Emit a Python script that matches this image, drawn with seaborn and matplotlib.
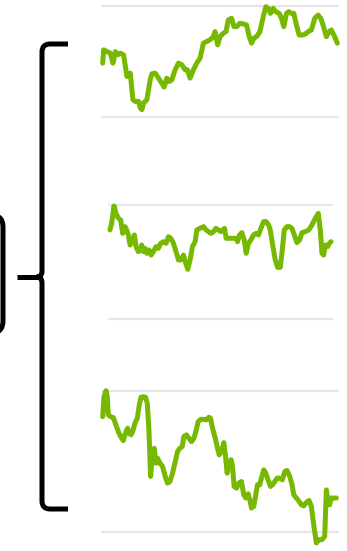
import numpy as np
import pandas as pd
import matplotlib
matplotlib.use("Agg")
import matplotlib.pyplot as plt
from matplotlib.path import Path
from matplotlib.patches import PathPatch
import seaborn as sns

# Three small trend series (x = sample position, y = level on a 0-100 scale)
top_x = [37, 40, 50, 60, 68, 75, 82, 90, 100, 110, 120, 128, 135, 145, 150, 155, 160, 170,
         180, 185, 195, 205, 215, 222, 230, 237, 245, 255, 265, 275, 285, 292, 300, 310,
         320, 330, 340, 350, 360, 370, 375, 383, 390, 400, 408, 415, 425, 432, 440, 450,
         460, 470, 478, 485, 492, 500, 510, 520, 528, 535, 542, 550, 558, 568, 575, 582,
         590, 597, 605, 612, 620, 628, 640, 650, 655, 665, 675, 685, 693, 700, 710, 718,
         725, 735, 743]
top_y = [48.4, 60.3, 58.8, 57.3, 48.4, 58.8, 55.8, 57.3, 55.8, 36.4, 39.4, 15.5, 14.0, 14.0,
         8.1, 6.6, 12.5, 15.5, 33.4, 38.8, 39.4, 34.9, 30.4, 26.9, 34.9, 31.9, 33.4, 42.4,
         48.4, 46.9, 42.4, 42.4, 34.9, 42.4, 48.4, 52.8, 66.3, 67.8, 69.3, 72.2, 76.7, 64.8,
         72.2, 75.2, 76.7, 87.2, 88.7, 81.2, 81.2, 84.2, 83.6, 82.7, 72.2, 66.3, 70.8, 72.2,
         76.7, 90.1, 99.1, 97.6, 93.1, 97.6, 94.6, 93.1, 88.7, 81.2, 93.1, 94.6, 93.1, 93.1,
         82.7, 73.7, 73.7, 75.2, 76.7, 78.2, 88.7, 91.6, 88.7, 82.7, 72.2, 76.7, 78.2, 72.2,
         66.3]

mid_x = [60, 65, 72, 78, 85, 92, 98, 105, 110, 115, 120, 128, 133, 138, 145, 150, 155, 160,
         165, 170, 177, 183, 190, 198, 205, 212, 220, 228, 235, 242, 250, 258, 265, 272,
         280, 287, 293, 300, 307, 315, 320, 330, 340, 348, 355, 362, 370, 377, 385, 392,
         398, 403, 408, 418, 430, 438, 442, 448, 455, 462, 468, 475, 482, 490, 498, 505,
         512, 520, 528, 535, 540, 548, 555, 562, 570, 575, 582, 590, 598, 605, 612, 620,
         628, 635, 645, 655, 662, 670, 678, 684, 690, 695, 700, 705, 712, 717, 722]
mid_y = [78.1, 83.9, 99.1, 92.7, 88.3, 86.8, 75.1, 81.0, 78.1, 73.7, 64.9, 69.3, 73.7, 63.5,
         59.1, 60.5, 64.9, 59.1, 62.0, 57.6, 60.5, 56.1, 59.1, 63.5, 62.0, 66.4, 67.8, 66.4,
         72.2, 70.8, 66.4, 59.1, 51.8, 51.8, 56.1, 48.8, 43.6, 51.8, 63.5, 67.8, 78.1, 79.5,
         81.0, 78.1, 76.6, 75.1, 76.6, 79.5, 78.1, 76.6, 78.1, 79.5, 70.8, 70.8, 70.8, 70.8,
         67.8, 73.7, 75.7, 69.3, 57.6, 66.4, 69.3, 73.7, 75.1, 73.7, 79.5, 85.4, 85.4, 82.5,
         78.1, 63.5, 51.8, 45.3, 45.3, 57.6, 78.1, 81.0, 81.0, 79.5, 73.7, 67.0, 69.3, 75.7,
         76.6, 78.1, 81.0, 85.4, 89.8, 92.7, 78.1, 57.6, 56.1, 64.9, 63.5, 66.4, 67.8]

low_x = [38, 42, 48, 52, 55, 62, 70, 78, 85, 92, 100, 108, 113, 118, 123, 128, 135, 142,
         148, 153, 160, 167, 172, 177, 182, 188, 193, 198, 203, 210, 218, 226, 233, 240,
         248, 255, 263, 270, 277, 282, 290, 297, 305, 312, 318, 325, 333, 342, 350, 357,
         362, 368, 375, 382, 388, 395, 402, 407, 412, 418, 424, 428, 433, 440, 447, 455,
         462, 468, 475, 480, 485, 492, 498, 503, 510, 515, 522, 528, 535, 542, 548, 555,
         562, 570, 578, 585, 592, 600, 607, 612, 620, 628, 635, 642, 650, 658, 665, 672,
         680, 688, 697, 705, 710, 715, 720, 725, 735, 740]
low_y = [81.8, 96.0, 100.2, 96.0, 83.0, 81.8, 81.1, 75.9, 71.2, 67.7, 64.8, 71.2, 73.6, 70.0,
         68.9, 71.2, 77.1, 80.6, 90.1, 95.5, 96.0, 95.5, 91.3, 72.4, 39.4, 58.2, 59.4, 48.8,
         52.3, 48.8, 46.5, 39.4, 34.7, 35.8, 41.7, 48.8, 57.1, 59.4, 60.6, 67.7, 68.9, 66.5,
         64.1, 66.5, 71.2, 78.3, 79.9, 79.9, 79.5, 81.4, 80.6, 73.6, 67.7, 60.6, 54.7, 57.1,
         63.4, 54.0, 41.7, 50.0, 51.2, 46.5, 32.3, 31.1, 34.7, 35.8, 26.4, 24.1, 27.1, 22.9,
         17.0, 18.2, 26.4, 33.5, 33.5, 38.2, 44.1, 41.7, 37.0, 32.3, 33.5, 35.8, 38.2, 38.2,
         37.0, 42.9, 43.6, 39.4, 33.5, 26.4, 24.1, 21.7, 19.3, 18.6, 21.0, 22.4, 18.2, 5.2,
         -7.8, -5.4, -5.4, -3.1, 29.9, 21.7, 19.3, 24.1, 24.1, 24.1]

W, H = 347, 551
GREEN = "#76b900"
GRID = "#e6e6e6"

sns.set_theme(style="white")
fig = plt.figure(figsize=(W / 100, H / 100), dpi=100)


def add_panel(x0, x1, y_top, y_bot, xs, ys, xlim):
    ax = fig.add_axes([x0 / W, 1 - y_bot / H, (x1 - x0) / W, (y_bot - y_top) / H])
    df = pd.DataFrame({"x": xs, "y": ys})
    for level in (0, 100):
        ax.axhline(level, color=GRID, lw=1.6, clip_on=False, zorder=1)
    sns.lineplot(data=df, x="x", y="y", ax=ax, color=GREEN, lw=3.6, zorder=3)
    for ln in ax.lines:
        ln.set_clip_on(False)
        ln.set_solid_joinstyle("round")
        ln.set_solid_capstyle("round")
    ax.set_xlim(*xlim)
    ax.set_ylim(0, 100)
    ax.axis("off")
    return ax


add_panel(102, 338, 5.7, 117, top_x, top_y, (35, 745))
add_panel(109, 332, 205, 319, mid_x, mid_y, (57, 725))
add_panel(102, 338, 391, 532, low_x, low_y, (36, 745))

# Overlay in pixel coordinates for the brace and the box edge
ov = fig.add_axes([0, 0, 1, 1], zorder=5)
ov.set_xlim(0, W)
ov.set_ylim(H, 0)
ov.axis("off")
ov.patch.set_alpha(0)

M, L4, C4 = Path.MOVETO, Path.LINETO, Path.CURVE3
bx = 42
brace = Path(
    [(68, 44), (50, 44), (bx, 44), (bx, 52), (bx, 271), (bx, 277), (37, 277),
     (bx, 277), (bx, 283), (bx, 501), (bx, 509), (50, 509), (68, 509)],
    [M, L4, C4, C4, L4, C4, C4, C4, C4, L4, C4, C4, L4],
)
ov.add_patch(PathPatch(brace, fill=False, lw=3.6, color="black", capstyle="butt",
                       joinstyle="round"))
ov.plot([17, 38], [277, 277], color="black", lw=3.6, solid_capstyle="butt")

r = 12
box = Path(
    [(-30, 215), (3 - r, 215), (3, 215), (3, 215 + r), (3, 333 - r), (3, 333),
     (3 - r, 333), (-30, 333)],
    [M, L4, C4, C4, L4, C4, C4, L4],
)
ov.add_patch(PathPatch(box, fill=False, lw=3.6, color="black", clip_on=False))

fig.savefig("out.png", dpi=100)
